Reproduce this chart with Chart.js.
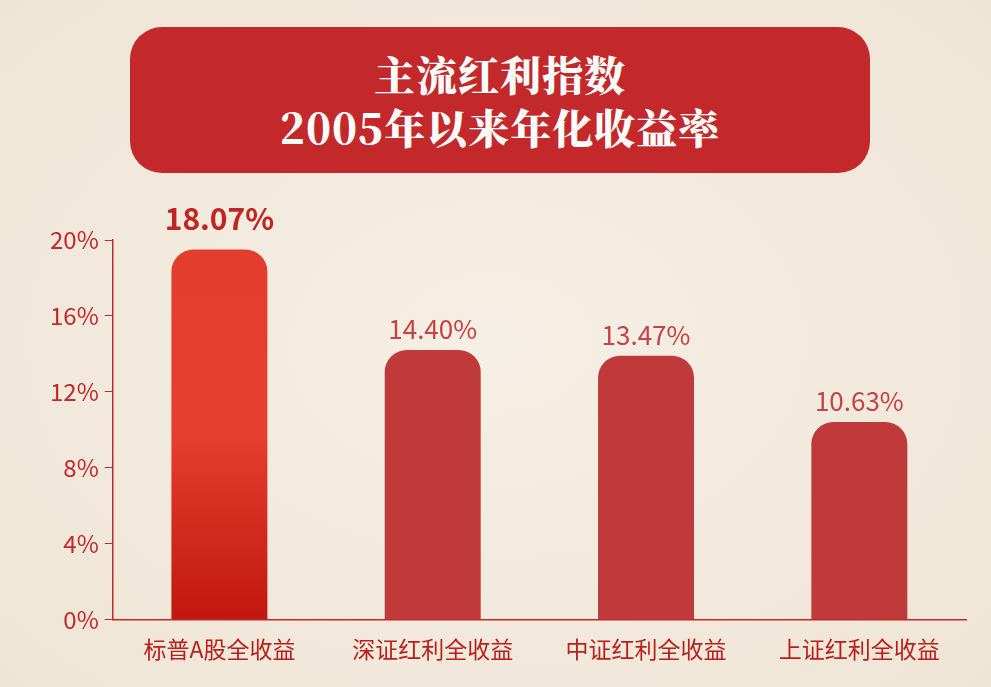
<!DOCTYPE html>
<html><head><meta charset="utf-8">
<script src="https://cdn.jsdelivr.net/npm/chart.js@4"></script>
<style>
html,body{margin:0;padding:0;width:991px;height:687px;overflow:hidden;background:#f3ebdf;font-family:"Noto Sans CJK SC","Noto Sans",sans-serif;}
#wrap{position:relative;width:991px;height:687px;background:radial-gradient(ellipse at center,#f6efe5 0%,#efe5d6 100%);}
#title{position:absolute;left:130px;top:27px;width:740px;height:146px;border-radius:32px;background:#c3282a;color:#fff;text-align:center;font-family:"Noto Serif CJK SC","Noto Sans CJK SC",serif;font-weight:900;font-size:41px;line-height:53px;padding-top:20px;box-sizing:border-box;letter-spacing:1px;}
canvas{position:absolute;left:0;top:0;}
</style></head><body>
<div id="wrap">
<div id="title">主流红利指数<br>2005年以来年化收益率</div>
<canvas id="c" width="991" height="687"></canvas>
</div>
<script>
const categories=["标普A股全收益","深证红利全收益","中证红利全收益","上证红利全收益"];
const barHeights=[19.5,14.2,13.9,10.4];
const valueLabels=["18.07%","14.40%","13.47%","10.63%"];
const yTicks=[0,4,8,12,16,20];
const RED="#c3282a";
const labelPlugin={id:"vl",afterDatasetsDraw(ch){
  const ctx=ch.ctx;const meta=ch.getDatasetMeta(0);
  meta.data.forEach((b,i)=>{
    ctx.save();ctx.textAlign="center";ctx.textBaseline="bottom";
    if(i===0){ctx.font="bold 30px 'Noto Sans CJK SC'";ctx.fillStyle="#c0261f";ctx.fillText(valueLabels[i],b.x,b.y-16);}
    else{ctx.font="26px 'Noto Sans CJK SC'";ctx.fillStyle="#c64345";ctx.fillText(valueLabels[i],b.x,b.y-8);}
    ctx.restore();
  });
}};
new Chart(document.getElementById("c"),{
  type:"bar",
  data:{labels:categories,datasets:[{data:barHeights,
    backgroundColor:(c)=>{
      if(c.dataIndex!==0)return "#c0393b";
      const a=c.chart.chartArea;if(!a)return "#e03a2a";
      const g=c.chart.ctx.createLinearGradient(0,a.top,0,a.bottom);
      g.addColorStop(0,"#e23d2d");g.addColorStop(0.5,"#e5402f");g.addColorStop(1,"#c1170e");return g;},
    borderRadius:{topLeft:22,topRight:22,bottomLeft:0,bottomRight:0},borderSkipped:"bottom",
    barPercentage:0.9,categoryPercentage:0.5}]},
  options:{responsive:false,animation:false,
    layout:{padding:{top:240,right:25,left:44,bottom:16}},
    plugins:{legend:{display:false},tooltip:{enabled:false}},
    scales:{
      y:{min:0,max:20,afterBuildTicks:(s)=>{s.ticks=yTicks.map(v=>({value:v}));},
        ticks:{callback:v=>v+"%",color:RED,font:{size:24,family:"Noto Sans CJK SC"},padding:6},
        grid:{drawOnChartArea:false,drawTicks:true,tickLength:8,color:RED},
        border:{color:RED,width:1.5}},
      x:{ticks:{color:"#b8201c",font:{size:23,family:"Noto Sans CJK SC"},padding:8},
        grid:{display:false},border:{color:RED,width:1.5}}
    }},
  plugins:[labelPlugin]
});
</script></body></html>
